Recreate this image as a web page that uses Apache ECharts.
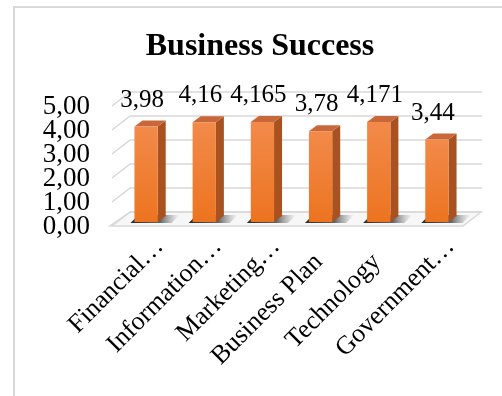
<!DOCTYPE html>
<html>
<head>
<meta charset="utf-8">
<script src="https://cdn.jsdelivr.net/npm/echarts@6/dist/echarts.min.js"></script>
<style>
    html, body { margin: 0; padding: 0; background: #fff; }
    #chart { width: 502px; height: 396px; }
</style>
</head>
<body>
<div id="chart"></div>
<script>
    var categories = ['Financial…', 'Information…', 'Marketing…', 'Business Plan', 'Technology', 'Government…'];
    var values = [3.98, 4.16, 4.165, 3.78, 4.171, 3.44];
    var yTicks = [0, 1, 2, 3, 4, 5];

    var font = '"Liberation Serif", "Times New Roman", serif';
    // oblique 3D offsets
    var wallDx = 18, wallDy = -14;
    var barOx = 5, barOy = -4;
    var barDx = 8, barDy = -6;

    var commaNum = function (v) {
        return String(v).replace('.', ',');
    };

    // back wall, left wall gridlines, floor and the value labels of the axis
    var renderWalls = function (params, api) {
        var cs = params.coordSys;
        var v = api.value(0);
        var y = api.coord([0, v])[1];
        var xl = cs.x, xr = cs.x + cs.width;
        var children = [];
        if (v === 0) {
            children.push({
                type: 'polygon',
                shape: { points: [[xl - 2, y], [xr + 2, y], [xr + wallDx + 2, y + wallDy], [xl + wallDx, y + wallDy]] },
                style: { fill: '#f7f7f7', stroke: '#d9d9d9', lineWidth: 1.5 }
            });
        }
        children.push({
            type: 'polyline',
            shape: { points: [[xl, y], [xl + wallDx, y + wallDy], [xr + wallDx + 3, y + wallDy]] },
            style: { fill: 'none', stroke: '#d9d9d9', lineWidth: 1.5 }
        });
        children.push({
            type: 'text',
            style: {
                text: v.toFixed(2).replace('.', ','),
                x: xl - 22,
                y: y + 1,
                align: 'right',
                verticalAlign: 'middle',
                font: '27px ' + font,
                fill: '#000'
            }
        });
        return { type: 'group', children: children };
    };

    var renderBar = function (params, api) {
        var idx = api.value(0), val = api.value(1);
        var top = api.coord([idx, val]);
        var base = api.coord([idx, 0]);
        var w = api.size([1, 0])[0] * 0.4;
        var xl = top[0] - w / 2 + barOx, xr = xl + w;
        var yt = top[1] + barOy, yb = base[1] + barOy;
        return {
            type: 'group',
            children: [{
                type: 'polygon',
                shape: { points: [[xl - 4, yb + 1], [xr + 14, yb + 1], [xr + 22, yb - 7], [xl + 4, yb - 7]] },
                style: {
                    fill: new echarts.graphic.LinearGradient(0, 0, 1, 0, [
                        { offset: 0, color: 'rgba(30,30,30,0.95)' },
                        { offset: 0.6, color: 'rgba(50,50,50,0.75)' },
                        { offset: 1, color: 'rgba(120,120,120,0)' }
                    ])
                }
            }, {
                type: 'polygon',
                shape: { points: [[xr, yt], [xr + barDx, yt + barDy], [xr + barDx, yb + barDy], [xr, yb]] },
                style: { fill: '#a9521f' }
            }, {
                type: 'polygon',
                shape: { points: [[xl, yt], [xr, yt], [xr + barDx, yt + barDy], [xl + barDx, yt + barDy]] },
                style: { fill: '#c8683a' }
            }, {
                type: 'rect',
                shape: { x: xl, y: yt, width: w, height: yb - yt },
                style: {
                    fill: new echarts.graphic.LinearGradient(0, 0, 0, 1, [
                        { offset: 0, color: '#f28a4a' },
                        { offset: 1, color: '#ec7420' }
                    ])
                }
            }, {
                type: 'text',
                style: {
                    text: commaNum(val),
                    x: top[0] + 1,
                    y: yt - 14,
                    align: 'center',
                    verticalAlign: 'bottom',
                    font: '25px ' + font,
                    fill: '#000'
                }
            }]
        };
    };

    // category labels, rotated; a trailing ellipsis hangs past the anchor like in Excel
    var renderCatLabel = function (params, api) {
        var idx = api.value(0);
        var name = categories[idx];
        var p = api.coord([idx, 0]);
        var hang = name.slice(-1) === '…' ? 22 : 0;
        return {
            type: 'text',
            x: p[0] + 3 + hang * 0.707,
            y: p[1] + 32 - hang * 0.707,
            rotation: Math.PI / 4,
            style: {
                text: name,
                align: 'right',
                verticalAlign: 'middle',
                font: '26px ' + font,
                fill: '#000'
            }
        };
    };

    var myChart = echarts.init(document.getElementById('chart'));
    myChart.setOption({
        backgroundColor: '#fff',
        animation: false,
        graphic: [{
            type: 'rect',
            left: 13, top: 6,
            shape: { width: 600, height: 500 },
            style: { fill: '#fff', stroke: '#d9d9d9', lineWidth: 2 },
            z: -10
        }],
        title: {
            text: 'Business Success',
            left: 255,
            top: 26,
            textAlign: 'center',
            textStyle: { fontFamily: font, fontSize: 32, fontWeight: 'bold', color: '#000' }
        },
        grid: { left: 112, right: 41, top: 106, bottom: 170 },
        xAxis: {
            type: 'category',
            data: categories,
            axisLine: { show: false },
            axisTick: { show: false },
            axisLabel: { show: false }
        },
        yAxis: {
            type: 'value',
            min: 0, max: 5, interval: 1,
            splitLine: { show: false },
            axisLine: { show: false },
            axisTick: { show: false },
            axisLabel: { show: false }
        },
        series: [{
            type: 'custom',
            name: 'walls',
            renderItem: renderWalls,
            data: yTicks.map(function (t) { return [t]; }),
            encode: { y: 0 },
            clip: false,
            silent: true,
            z: 1
        }, {
            type: 'custom',
            name: 'Business Success',
            renderItem: renderBar,
            data: values.map(function (v, i) { return [i, v]; }),
            encode: { x: 0, y: 1 },
            z: 2
        }, {
            type: 'custom',
            name: 'categoryLabels',
            renderItem: renderCatLabel,
            data: categories.map(function (c, i) { return [i]; }),
            encode: { x: 0 },
            clip: false,
            silent: true,
            z: 3
        }]
    });
</script>
</body>
</html>
